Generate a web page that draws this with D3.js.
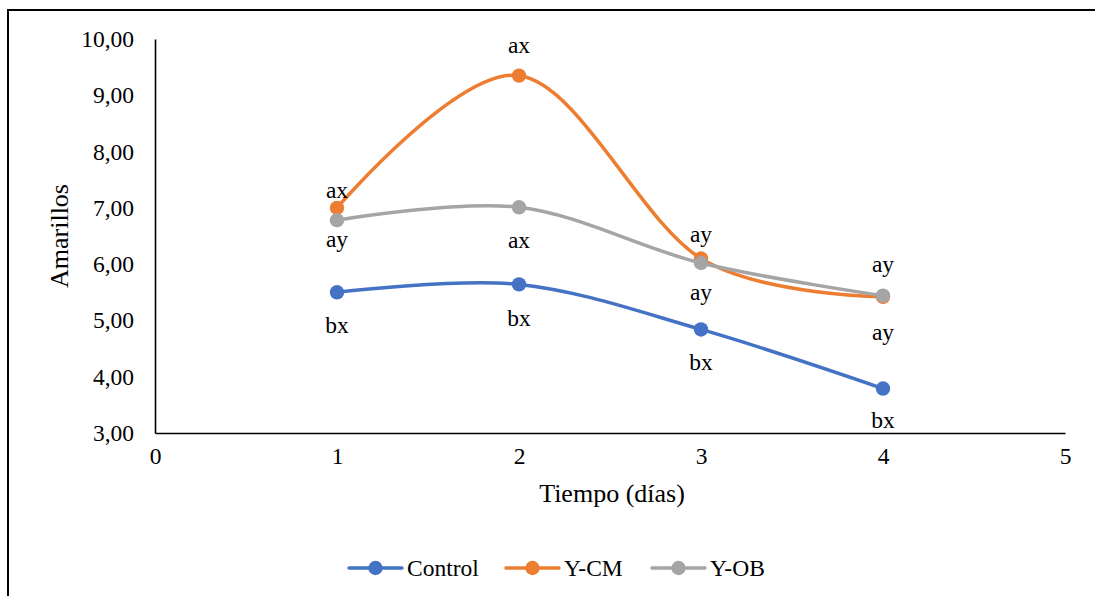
<!DOCTYPE html>
<html>
<head>
<meta charset="utf-8">
<script src="https://cdn.jsdelivr.net/npm/d3@7"></script>
<style>
  html, body { margin: 0; padding: 0; background: #fff; }
  svg text { font-family: "Liberation Serif", "DejaVu Serif", serif !important; }
</style>
</head>
<body>
<svg id="chart" width="1095" height="596"></svg>
<script>
// ---- data ----
const days = [1, 2, 3, 4];
const seriesNames = ["Control", "Y-CM", "Y-OB"];
const controlValues = [5.50, 5.64, 4.84, 3.79];
const ycmValues = [7.00, 9.35, 6.10, 5.42];
const yobValues = [6.78, 7.01, 6.02, 5.44];
const controlLabels = ["bx", "bx", "bx", "bx"];
const ycmLabels = ["ax", "ax", "ay", "ay"];
const yobLabels = ["ay", "ax", "ay", "ay"];
const xTicks = [0, 1, 2, 3, 4, 5];
const yTicks = [3, 4, 5, 6, 7, 8, 9, 10];
const xTitle = "Tiempo (días)";
const yTitle = "Amarillos";

// ---- layout / style ----
const colors = ["#4472C4", "#ED7D31", "#A5A5A5"];
const labelDy = [
  [41, 42, 41, 39],
  [-10, -23, -17, 43],
  [27, 41, 37, -24]
];
const FONT = '"Liberation Serif", serif';
const FS = 23.5;

const svg = d3.select("#chart").attr("font-family", FONT);
const x = d3.scaleLinear().domain([0, 5]).range([155, 1065]);
const y = d3.scaleLinear().domain([3, 10]).range([433, 39]);

// outer border (chart area frame)
svg.append("rect").attr("x", 8).attr("y", 10).attr("width", 1100).attr("height", 600)
  .attr("fill", "none").attr("stroke", "#000").attr("stroke-width", 2);

const fmt = v => d3.format(".2f")(v).replace(".", ",");

// axes
const yAxis = d3.axisLeft(y).tickValues(yTicks).tickFormat(fmt).tickSize(0).tickPadding(21);
const xAxis = d3.axisBottom(x).tickValues(xTicks).tickFormat(d3.format("d")).tickSize(0).tickPadding(14);

const gy = svg.append("g").attr("transform", `translate(${x(0)},0)`).call(yAxis);
const gx = svg.append("g").attr("transform", `translate(0,${y(3)})`).call(xAxis);
[gx, gy].forEach(g => {
  g.attr("font-family", FONT).attr("font-size", FS);
  g.select(".domain").attr("stroke", "#000").attr("stroke-width", 1.6);
  g.selectAll("text").attr("fill", "#000");
});

// axis titles
svg.append("text").attr("x", 612).attr("y", 502).attr("text-anchor", "middle")
  .attr("font-size", 26).text(xTitle);
svg.append("text").attr("transform", "translate(68,236) rotate(-90)").attr("text-anchor", "middle")
  .attr("font-size", 26).text(yTitle);

// series
const allValues = [controlValues, ycmValues, yobValues];
const allLabels = [controlLabels, ycmLabels, yobLabels];
const line = d3.line().x(d => x(d[0])).y(d => y(d[1])).curve(d3.curveCardinal.tension(0));

allValues.forEach((vals, si) => {
  const pts = days.map((d, i) => [d, vals[i]]);
  const g = svg.append("g");
  g.append("path").datum(pts).attr("d", line).attr("fill", "none")
    .attr("stroke", colors[si]).attr("stroke-width", 3.5).attr("stroke-linecap", "round");
  g.selectAll("circle").data(pts).enter().append("circle")
    .attr("cx", d => x(d[0])).attr("cy", d => y(d[1])).attr("r", 7.2)
    .attr("fill", colors[si]);
});

// data labels
allValues.forEach((vals, si) => {
  svg.append("g").selectAll("text").data(days).enter().append("text")
    .attr("x", d => x(d))
    .attr("y", (d, i) => y(vals[i]) + labelDy[si][i])
    .attr("text-anchor", "middle").attr("font-size", FS).attr("fill", "#000")
    .text((d, i) => allLabels[si][i]);
});

// legend
const legendItems = [
  { x0: 349, name: seriesNames[0], c: colors[0] },
  { x0: 506, name: seriesNames[1], c: colors[1] },
  { x0: 652, name: seriesNames[2], c: colors[2] }
];
const ly = 568;
const lg = svg.append("g");
legendItems.forEach(it => {
  lg.append("line").attr("x1", it.x0).attr("x2", it.x0 + 53).attr("y1", ly).attr("y2", ly)
    .attr("stroke", it.c).attr("stroke-width", 3.5).attr("stroke-linecap", "round");
  lg.append("circle").attr("cx", it.x0 + 26.5).attr("cy", ly).attr("r", 7.2).attr("fill", it.c);
  lg.append("text").attr("x", it.x0 + 58).attr("y", ly + 8).attr("font-size", FS)
    .attr("fill", "#000").text(it.name);
});
</script>
</body>
</html>
